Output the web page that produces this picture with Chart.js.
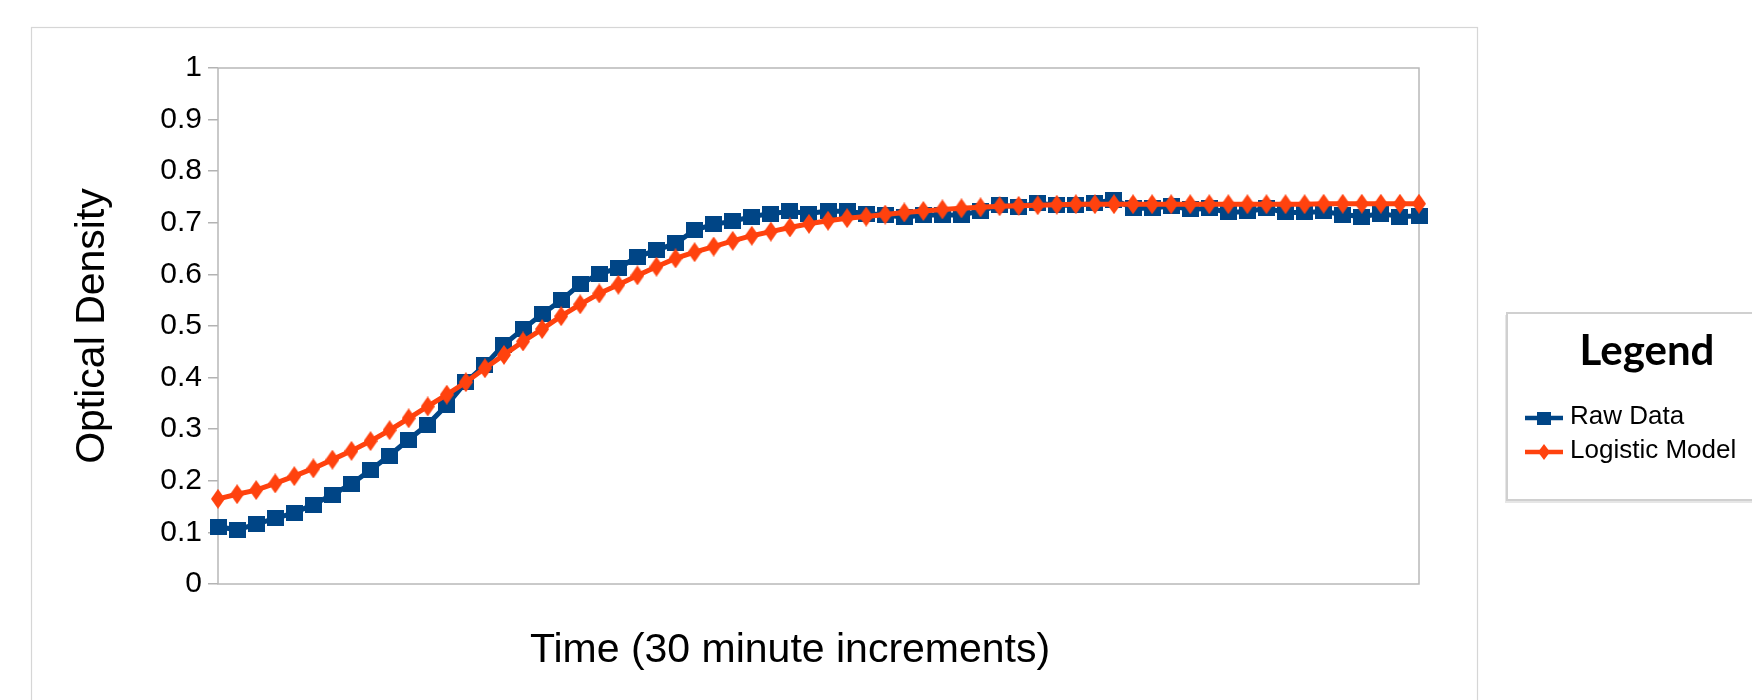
<!DOCTYPE html>
<html>
<head>
<meta charset="utf-8">
<script src="https://cdn.jsdelivr.net/npm/chart.js@4.4.1/dist/chart.umd.min.js"></script>
<style>
html,body{margin:0;padding:0;background:#fff;}
#wrap{width:1752px;height:700px;}
</style>
</head>
<body>
<div id="wrap"><canvas id="c" width="1752" height="700"></canvas></div>
<script>
// ---------- data ----------
const categories = [
  1,2,3,4,5,6,7,8,9,10,11,12,13,14,15,16,17,18,19,20,21,22,23,24,25,26,27,28,29,30,31,32,
  33,34,35,36,37,38,39,40,41,42,43,44,45,46,47,48,49,50,51,52,53,54,55,56,57,58,59,60,61,62,63,64
];
const rawData = [
  0.111,0.105,0.116,0.127,0.138,0.154,0.173,0.194,0.221,0.249,0.280,0.309,0.347,0.391,0.424,0.464,
  0.494,0.523,0.550,0.581,0.601,0.612,0.634,0.647,0.660,0.686,0.697,0.703,0.712,0.718,0.722,0.718,
  0.723,0.722,0.718,0.715,0.711,0.715,0.715,0.715,0.723,0.734,0.731,0.738,0.734,0.734,0.738,0.745,
  0.728,0.728,0.733,0.726,0.728,0.720,0.722,0.728,0.720,0.720,0.722,0.716,0.712,0.718,0.712,0.713
];
const logisticModel = [
  0.165,0.174,0.182,0.195,0.209,0.224,0.241,0.258,0.277,0.298,0.321,0.344,0.367,0.391,0.418,0.444,
  0.470,0.494,0.519,0.542,0.563,0.580,0.598,0.615,0.631,0.643,0.654,0.665,0.675,0.683,0.691,0.698,
  0.704,0.709,0.712,0.716,0.720,0.723,0.726,0.728,0.730,0.732,0.733,0.734,0.735,0.736,0.736,0.736,
  0.736,0.736,0.736,0.736,0.736,0.736,0.736,0.736,0.736,0.736,0.737,0.737,0.737,0.737,0.737,0.737
];
const yTickLabels = ['0','0.1','0.2','0.3','0.4','0.5','0.6','0.7','0.8','0.9','1'];
const seriesNames = ['Raw Data', 'Logistic Model'];
const seriesColors = ['#004586', '#ff420e'];
const legendTitle = 'Legend';
const xTitle = 'Time (30 minute increments)';
const yTitle = 'Optical Density';

// ---------- marker images ----------
function makeSquare(w, h, color) {
  const c = document.createElement('canvas');
  c.width = w; c.height = h;
  const g = c.getContext('2d');
  g.fillStyle = color;
  g.fillRect(0, 0, w, h);
  return c;
}
function makeDiamond(w, h, color) {
  const c = document.createElement('canvas');
  c.width = w; c.height = h;
  const g = c.getContext('2d');
  g.fillStyle = color;
  g.beginPath();
  g.moveTo(w / 2, 0); g.lineTo(w, h / 2); g.lineTo(w / 2, h); g.lineTo(0, h / 2);
  g.closePath(); g.fill();
  return c;
}
const squareMarker = makeSquare(17, 16, seriesColors[0]);
const diamondMarker = makeDiamond(14, 20, seriesColors[1]);
const legendMarkers = [makeSquare(14, 13, seriesColors[0]), makeDiamond(12, 16, seriesColors[1])];

const FONT = "'Liberation Sans', Arial, sans-serif";

// ---------- plugins ----------
const framePlugin = {
  id: 'frame',
  beforeDraw(chart) {
    const ctx = chart.ctx;
    ctx.save();
    ctx.fillStyle = '#ffffff';
    ctx.fillRect(0, 0, chart.width, chart.height);
    ctx.strokeStyle = '#d6d6d6';
    ctx.lineWidth = 1.2;
    ctx.strokeRect(31.5, 27.5, 1446, 700);
    ctx.restore();
  },
  beforeDatasetsDraw(chart) {
    const a = chart.chartArea;
    const ctx = chart.ctx;
    ctx.save();
    ctx.strokeStyle = '#b8b8b8';
    ctx.lineWidth = 1.5;
    ctx.strokeRect(a.left, a.top, a.right - a.left, a.bottom - a.top);
    ctx.restore();
  }
};

const sideLegend = {
  id: 'sideLegend',
  afterDraw(chart) {
    const ctx = chart.ctx;
    ctx.save();
    ctx.fillStyle = '#e6e6e6';
    ctx.fillRect(1505, 315, 260, 188);
    ctx.fillStyle = '#ffffff';
    ctx.fillRect(1507, 313, 260, 187);
    ctx.strokeStyle = '#d0d0d0';
    ctx.lineWidth = 2;
    ctx.strokeRect(1507, 313, 260, 187);
    ctx.fillStyle = '#000000';
    ctx.font = "bold 42px Lato, 'Open Sans', sans-serif";
    ctx.textAlign = 'center';
    ctx.textBaseline = 'alphabetic';
    ctx.fillText(legendTitle, 1647, 365);
    const rowY = [418, 452];
    chart.data.datasets.forEach((ds, i) => {
      const y = rowY[i];
      ctx.strokeStyle = ds.borderColor;
      ctx.lineWidth = 4.5;
      ctx.beginPath();
      ctx.moveTo(1525, y);
      ctx.lineTo(1563, y);
      ctx.stroke();
      const m = legendMarkers[i];
      ctx.drawImage(m, 1544 - m.width / 2, y - m.height / 2);
      ctx.fillStyle = '#000000';
      ctx.font = '26px ' + FONT;
      ctx.textAlign = 'left';
      ctx.textBaseline = 'middle';
      ctx.fillText(ds.label, 1570, y - 1);
    });
    ctx.restore();
  }
};

// ---------- chart ----------
new Chart(document.getElementById('c'), {
  type: 'line',
  data: {
    labels: categories,
    datasets: [
      {
        label: seriesNames[0],
        data: rawData,
        borderColor: seriesColors[0],
        backgroundColor: seriesColors[0],
        borderWidth: 5,
        tension: 0,
        pointStyle: squareMarker,
        pointRadius: 8,
        order: 2
      },
      {
        label: seriesNames[1],
        data: logisticModel,
        borderColor: seriesColors[1],
        backgroundColor: seriesColors[1],
        borderWidth: 5,
        tension: 0,
        pointStyle: diamondMarker,
        pointRadius: 8,
        order: 1
      }
    ]
  },
  options: {
    responsive: false,
    animation: false,
    events: [],
    layout: { padding: { left: 0, right: 333, top: 68, bottom: 0 } },
    plugins: {
      legend: { display: false },
      tooltip: { enabled: false },
      title: { display: false }
    },
    scales: {
      x: {
        type: 'category',
        offset: false,
        grid: { display: false },
        border: { display: false },
        ticks: { display: false },
        title: {
          display: true,
          text: xTitle + '     ',
          color: '#000000',
          font: { family: FONT, size: 41 },
          padding: { top: 0, bottom: 24.6 }
        },
        afterFit(scale) { scale.height = 116; }
      },
      y: {
        type: 'linear',
        min: 0,
        max: 1,
        grid: {
          display: true,
          drawOnChartArea: false,
          drawTicks: true,
          tickLength: 10,
          color: '#b3b3b3',
          lineWidth: 1.5
        },
        border: { display: false },
        ticks: {
          stepSize: 0.1,
          padding: 6,
          color: '#000000',
          font: { family: FONT, size: 30 },
          callback: (v) => yTickLabels[Math.round(v * 10)]
        },
        title: {
          display: true,
          text: yTitle,
          color: '#000000',
          font: { family: FONT, size: 41 },
          padding: { top: 68, bottom: 0 }
        },
        afterFit(scale) { scale.width = 218; }
      }
    }
  },
  plugins: [framePlugin, sideLegend]
});
</script>
</body>
</html>
